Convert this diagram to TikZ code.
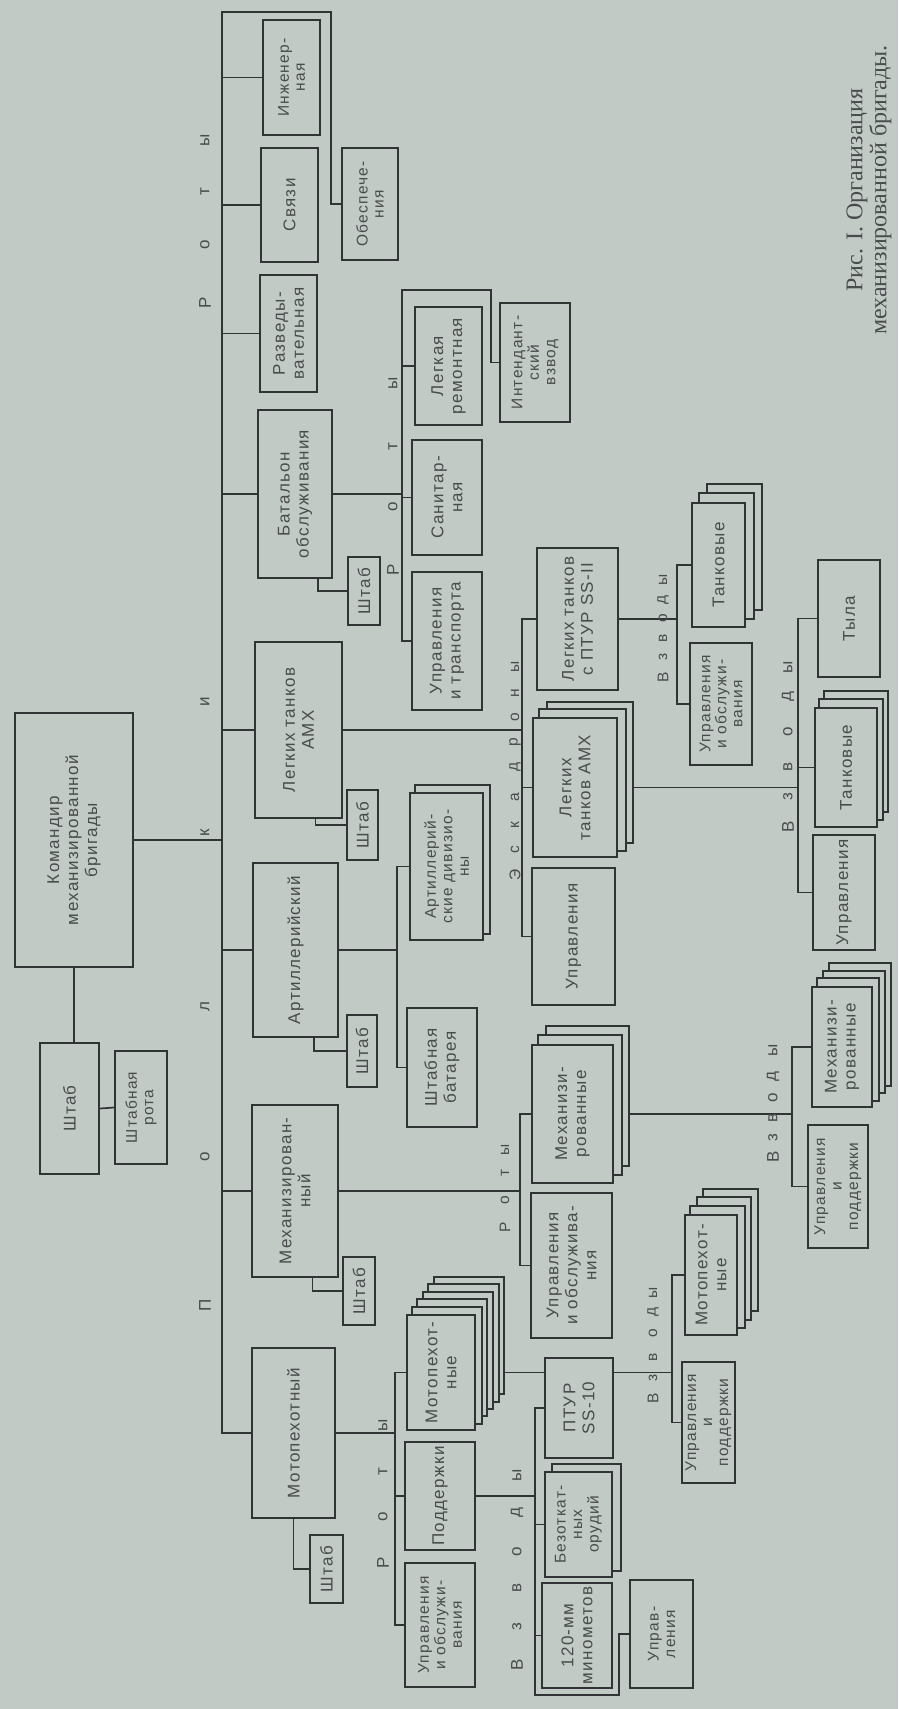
\documentclass[tikz,border=0pt]{standalone}
\usepackage{fontspec}
\setmainfont[LetterSpace=8]{Liberation Sans}
\newfontfamily\capfont{Liberation Serif}
\usetikzlibrary{calc}

\definecolor{paper}{RGB}{194,202,198}
\definecolor{ink}{RGB}{48,52,52}
\definecolor{print}{RGB}{72,76,76}

\pgfdeclarelayer{bg}
\pgfdeclarelayer{links}
\pgfdeclarelayer{sheets}
\pgfsetlayers{bg,links,sheets,main}

\tikzset{
  unit/.style={draw=ink, fill=paper, text=print, rotate=90, line width=2.2pt,
    inner sep=1pt, align=center, font=\fontsize{17}{19}\selectfont},
  small/.style={font=\fontsize{15.5}{16}\selectfont},
  sz/.style 2 args={minimum height=#1pt, minimum width=#2pt},
  link/.style={draw=ink, line width=1.7pt},
  sheet/.style={draw=ink, fill=paper, line width=2pt},
  letter/.style={rotate=90, text=print, inner sep=0pt, font=\fontsize{17}{17}\selectfont},
  minor/.style={font=\fontsize{15.5}{16.5}\selectfont},
}

\begin{document}
\begin{tikzpicture}[x=1pt, y=-1pt]
\useasboundingbox (0,0) rectangle (898,1709);
\begin{pgfonlayer}{bg}
  \fill[paper] (0,0) rectangle (898,1709);
\end{pgfonlayer}

% brigade
\node[unit, sz={118}{254}] (cmd) at (74,840) {Командир\\механизированной\\бригады};
\node[unit, sz={59}{131}] (hq) at (69.5,1108.5) {Штаб};
\node[unit, minor, sz={52}{113}] (hqco) at (141,1107.5) {Штабная\\рота};

% regiments and companies
\node[unit, small, sz={57}{115}] (eng) at (291.5,77.5) {Инженер-\\ная};
\node[unit, sz={57}{114}] (sig) at (289.5,205) {Связи};
\node[unit, small, sz={56}{112}] (sup) at (370,204) {Обеспече-\\ния};
\node[unit, sz={57}{117}] (rec) at (288.5,333.5) {Разведы-\\вательная};
\node[unit, sz={74}{168}] (svc) at (295,494) {Батальон\\обслуживания};
\node[unit, sz={87}{176}] (ltk) at (298.5,730) {Легких танков\\АМХ};
\node[unit, sz={85}{174}] (art) at (295.5,950) {Артиллерийский};
\node[unit, sz={86}{172}] (mech) at (295,1191) {Механизирован-\\ный};
\node[unit, sz={83}{170}] (mot) at (293.5,1433) {Мотопехотный};

% staffs
\node[unit, sz={32}{68}] (s1) at (364,591) {Штаб};
\node[unit, sz={31}{70}] (s2) at (362.5,825) {Штаб};
\node[unit, sz={30}{72}] (s3) at (362,1051) {Штаб};
\node[unit, sz={32}{68}] (s4) at (359,1291) {Штаб};
\node[unit, sz={33}{68}] (s5) at (326.5,1569) {Штаб};

% service battalion
\node[unit, sz={67}{118}] (rep) at (448.5,366) {Легкая\\ремонтная};
\node[unit, sz={70}{115}] (san) at (447,497.5) {Санитар-\\ная};
\node[unit, sz={70}{138}] (utr) at (447,641) {Управления\\и транспорта};
\node[unit, minor, sz={70}{119}] (int) at (535,362.5) {Интендант-\\ский\\взвод};

% light tank battalion
\node[unit, sz={81}{142}] (ptur) at (577.5,619) {Легких танков\\с ПТУР SS-II};
\node[unit, sz={84}{139}] (amx) at (575,787.5) {Легких\\танков АМХ};
\node[unit, sz={83}{137}] (upr) at (573.5,936.5) {Управления};
\node[unit, sz={62}{117}] (tyl) at (849,618.5) {Тыла};
\node[unit, sz={62}{119}] (tnk1) at (846,767.5) {Танковые};
\node[unit, sz={62}{115}] (upr2) at (844,892.5) {Управления};
\node[unit, sz={53}{124}] (tnk2) at (718.5,565) {Танковые};
\node[unit, small, sz={62}{122}] (uob2) at (721,704) {Управления\\и обслужи-\\вания};

% artillery
\node[unit, minor, sz={73}{147}] (artd) at (446.5,866.5) {Артиллерий-\\ские дивизио-\\ны};
\node[unit, sz={70}{119}] (shb) at (442,1067.5) {Штабная\\батарея};

% mechanized battalion
\node[unit, sz={81}{138}] (mr) at (572.5,1114) {Механизи-\\рованные};
\node[unit, sz={81}{145}] (uob3) at (571.5,1265.5) {Управления\\и обслужива-\\ния};
\node[unit, sz={60}{120}] (mv) at (842,1047) {Механизи-\\рованные};
\node[unit, minor, sz={60}{123}] (up3) at (838,1186.5) {Управления\\и\\поддержки};

% motor infantry battalion
\node[unit, sz={68}{115}] (mpr) at (441,1372.5) {Мотопехот-\\ные};
\node[unit, sz={70}{108}] (pod) at (440,1496) {Поддержки};
\node[unit, minor, sz={70}{124}] (uob4) at (440,1625) {Управления\\и обслужи-\\вания};
\node[unit, sz={52}{120}] (mpv) at (711,1275) {Мотопехот-\\ные};
\node[unit, small, sz={53}{121}] (up4) at (708.5,1422.5) {Управления\\и\\поддержки};
\node[unit, sz={68}{100}] (ptur10) at (579,1408) {ПТУР\\SS-10};
\node[unit, minor, sz={67}{105}] (bez) at (578.5,1524.5) {Безоткат-\\ных\\орудий};
\node[unit, sz={70}{105}] (mort) at (577,1635.5) {120-мм\\минометов};
\node[unit, minor, sz={63}{108}] (upr5) at (661.5,1634) {Управ-\\ления};

% stacked sheets behind several units
\begin{pgfonlayer}{sheets}
\foreach \n/\c/\dx/\dy in {artd/1/6/7, amx/2/7.5/7.5, tnk1/2/5/8, tnk2/2/8/9, mr/2/7.5/9,
    mv/3/6/7.5, mpr/5/5.6/7.4, mpv/3/6.5/8.3, bez/1/8/7}
  \foreach \k in {\c,...,1}
    \draw[sheet] ($(\n.south west)+(\dx*\k,-\dy*\k)$) rectangle ($(\n.north east)+(\dx*\k,-\dy*\k)$);
\end{pgfonlayer}

\begin{pgfonlayer}{links}
% main bus
\coordinate (bus) at (222,12);
\draw[link] (sup.north) -- ++(-10,0) |- (bus) |- (mot.north);
\foreach \n in {eng,sig,rec,svc,ltk,art,mech}
  \draw[link] (\n.north) -- (\n.north -| bus);
\draw[link] (cmd.south) -- (cmd.south -| bus);
\draw[link] (cmd.west) -- (cmd.west |- hq.east);
\draw[link] (hq.south) -- (hqco.north);
% staffs
\foreach \p/\s/\f in {svc/s1/0.2, ltk/s2/0.31, art/s3/0.29, mech/s4/0.3, mot/s5/0.5}
  \draw[link] (\s.north) -| ($(\p.south west)!\f!(\p.north west)$);
% service battalion companies
\coordinate (rv1) at (402,290);
\draw[link] (svc.south) -- (svc.south -| rv1);
\draw[link] (int.north) -- ++(-8,0) |- (rv1) |- (utr.north);
\foreach \n in {rep,san}
  \draw[link] (\n.north) -- (\n.north -| rv1);
% squadrons
\coordinate (ev) at (522,619);
\draw[link] (ltk.south) -- (ltk.south -| ev);
\draw[link] (ptur.north) -- (ptur.north -| ev) |- (upr.north);
\draw[link] (amx.north) -- (amx.north -| ev);
\coordinate (tv1) at (798,0);
\draw[link] (amx.south) -- (amx.south -| tv1);
\draw[link] (tyl.north) -- (tyl.north -| tv1) |- (upr2.north);
\draw[link] (tnk1.north) -- (tnk1.north -| tv1);
\coordinate (tv2) at (677,0);
\draw[link] (ptur.south) -- (ptur.south -| tv2);
\draw[link] (tnk2.north) -- (tnk2.north -| tv2) |- (uob2.north);
% artillery
\coordinate (av) at (397,0);
\draw[link] (art.south) -- (art.south -| av);
\draw[link] (artd.north) -- (artd.north -| av) |- (shb.north);
% mechanized
\coordinate (mv1) at (520,0);
\draw[link] (mech.south) -- (mech.south -| mv1);
\draw[link] (mr.north) -- (mr.north -| mv1) |- (uob3.north);
\coordinate (mv2) at (792,0);
\draw[link] (mr.south) -- (mr.south -| mv2);
\draw[link] (mv.north) -- (mv.north -| mv2) |- (up3.north);
% motor infantry
\coordinate (pv1) at (395,0);
\draw[link] (mot.south) -- (mot.south -| pv1);
\draw[link] (mpr.north) -- (mpr.north -| pv1) |- (uob4.north);
\draw[link] (pod.north) -- (pod.north -| pv1);
\coordinate (pv2) at (672,0);
\draw[link] (mpr.south) -- (mpr.south -| pv2);
\draw[link] (mpv.north) -- (mpv.north -| pv2) |- (up4.north);
\coordinate (pv3) at (535,1695);
\draw[link] (pod.south) -- (pod.south -| pv3);
\draw[link] (upr5.north) -- ++(-10,0) |- (pv3) |- (ptur10.north);
\foreach \n in {bez,mort}
  \draw[link] (\n.north) -- (\n.north -| pv3);
\end{pgfonlayer}

% spaced headings
\foreach \t/\y [count=\i] in {П/1305,о/1157,л/1007,к/833,и/702,Р/303,о/245,т/192,ы/140}
  \node[letter] (hb\i) at (205,\y) {\t};
\foreach \t/\y [count=\i] in {Р/570,о/507,т/447,ы/383}
  \node[letter] (hs\i) at (393,\y) {\t};
\foreach \t/\y [count=\i] in {Э/875,с/850,к/825,а/797,д/767,р/742,о/717,н/693,ы/667}
  \node[letter, minor] (he\i) at (515,\y) {\t};
\foreach \t/\y [count=\i] in {В/827,з/797,в/767,о/732,д/697,ы/667}
  \node[letter] (ha\i) at (788,\y) {\t};
\foreach \t/\y [count=\i] in {В/677,з/657,в/638,о/618,д/600,ы/580}
  \node[letter, minor] (hp\i) at (663,\y) {\t};
\foreach \t/\y [count=\i] in {Р/1227,о/1200,т/1173,ы/1150}
  \node[letter, minor] (hm\i) at (505,\y) {\t};
\foreach \t/\y [count=\i] in {В/1157,з/1138,в/1118,о/1098,д/1077,ы/1050}
  \node[letter] (hv\i) at (773,\y) {\t};
\foreach \t/\y [count=\i] in {Р/1563,о/1517,т/1472,ы/1425}
  \node[letter] (hr\i) at (383,\y) {\t};
\foreach \t/\y [count=\i] in {В/1398,з/1378,в/1357,о/1333,д/1312,ы/1293}
  \node[letter, minor] (hq\i) at (653,\y) {\t};
\foreach \t/\y [count=\i] in {В/1665,з/1627,в/1588,о/1552,д/1513,ы/1475}
  \node[letter] (hd\i) at (517,\y) {\t};

% caption
\node[rotate=90, text=print, align=center, inner sep=0pt,
  font=\capfont\fontsize{24}{24}\selectfont] (cap) at (869,190)
  {Рис. I. Организация\\механизированной бригады.};
\end{tikzpicture}
\end{document}
